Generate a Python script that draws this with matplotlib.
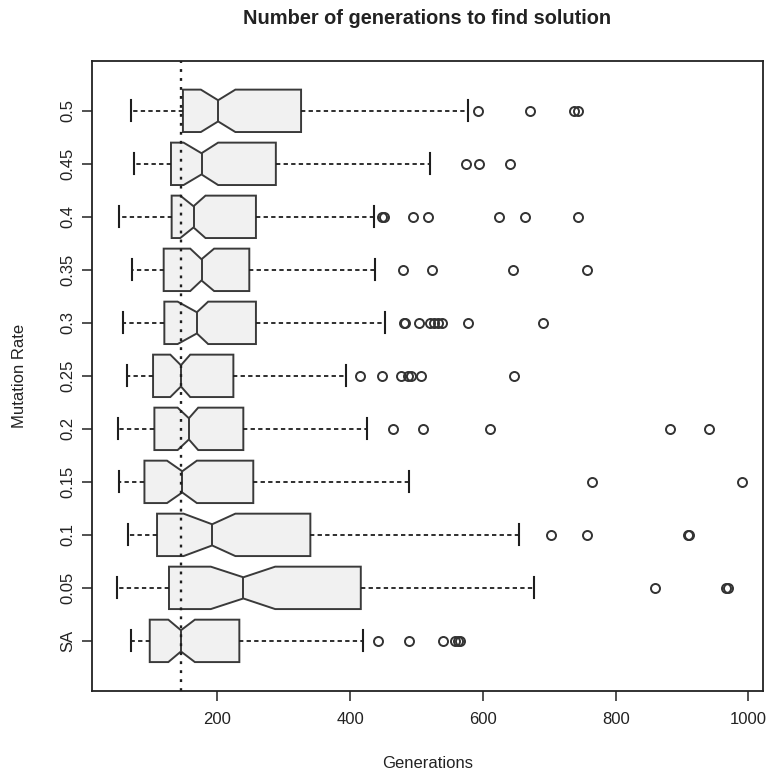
import numpy as np
import matplotlib
matplotlib.use('Agg')
import matplotlib.pyplot as plt

plt.rcParams['font.family'] = ['Liberation Sans', 'DejaVu Sans']

# rows from bottom (SA) to top (0.5)
labels = ['SA', '0.05', '0.1', '0.15', '0.2', '0.25', '0.3', '0.35', '0.4', '0.45', '0.5']
whislo = [70, 48, 65, 51, 50, 64, 58, 72, 51, 74, 70]
q1 = [98, 127, 109, 90, 105, 103, 120, 119, 131, 130, 148]
med = [145, 239, 192, 147, 157, 145, 169, 176, 164, 176, 201]
q3 = [233, 416, 340, 254, 239, 224, 258, 248, 258, 288, 326]
whishi = [420, 677, 655, 488, 425, 394, 453, 438, 436, 521, 578]
cilo = [126, 190, 149, 124, 140, 129, 140, 159, 144, 149, 175]
cihi = [166, 287, 227, 169, 171, 159, 186, 195, 182, 201, 227]
fliers = [
    [442, 489, 540, 558, 563, 565],
    [860, 966, 969],
    [702, 757, 909, 911],
    [765, 990],
    [464, 509, 610, 882, 940],
    [415, 448, 476, 487, 492, 507, 647],
    [481, 483, 503, 520, 527, 532, 538, 578, 690],
    [480, 523, 645, 757],
    [448, 451, 494, 517, 624, 663, 743],
    [574, 594, 641],
    [592, 671, 737, 744],
]
ref_line = 145

stats = []
for i in range(len(labels)):
    stats.append(dict(med=med[i], q1=q1[i], q3=q3[i], whislo=whislo[i], whishi=whishi[i],
                      cilo=cilo[i], cihi=cihi[i], fliers=np.array(fliers[i]), label=labels[i]))

fig = plt.figure(figsize=(7.68, 7.75), dpi=100)
ax = fig.add_axes([92/768, 1 - 690.7/775, (763-92)/768, (690.7-61)/775])

ec = '#3a3a3a'
ax.bxp(stats, positions=np.arange(1, len(labels) + 1), widths=0.8, capwidths=0.4,
       orientation='horizontal', shownotches=True, patch_artist=True,
       boxprops=dict(facecolor='#f1f1f1', edgecolor=ec, linewidth=1.4),
       medianprops=dict(color=ec, linewidth=1.4),
       whiskerprops=dict(color='#1e1e1e', linewidth=1.3, linestyle=(0, (2.4, 1.8))),
       capprops=dict(color='#1e1e1e', linewidth=1.5),
       flierprops=dict(marker='o', markerfacecolor='none', markeredgecolor='#333333',
                       markersize=6.5, markeredgewidth=1.4))

# dotted reference line drawn over the boxes
ax.axvline(ref_line, color='#1e1e1e', linewidth=1.7, linestyle=(0, (1.2, 2.6)), zorder=4)

ax.set_xlim(11, 1022)
ax.set_ylim(0.06, 11.94)
ax.set_xticks([200, 400, 600, 800, 1000])
ax.set_yticks(np.arange(1, len(labels) + 1))
ax.set_yticklabels(labels, rotation=90, va='center')
ax.tick_params(axis='both', direction='out', length=7, width=1.1, labelsize=12, colors='#222222', pad=5)
ax.tick_params(axis='x', pad=8)
for s in ax.spines.values():
    s.set_linewidth(1.3)
    s.set_color('#222222')

fig.text(20/768, 1 - 376/775, 'Mutation Rate', rotation=90, ha='center', va='center', fontsize=12, color='#222222')
fig.text(427.5/768, 1 - 763/775, 'Generations', ha='center', va='center', fontsize=12, color='#222222')
fig.text(427.5/768, 1 - 19/775, 'Number of generations to find solution', ha='center', va='center',
         fontsize=14.4, fontweight='bold', color='#222222')

fig.savefig('out.png', dpi=100)
